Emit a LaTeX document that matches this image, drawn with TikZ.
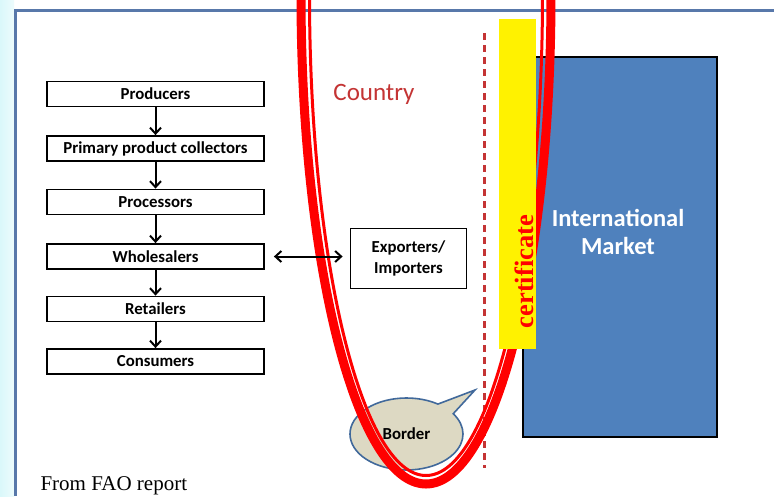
\documentclass[tikz,border=0pt]{standalone}
\usepackage{fontspec}
\setmainfont{Carlito}
\newfontfamily\serifface{Liberation Serif}
\usetikzlibrary{arrows.meta,shapes.callouts}

\definecolor{framebl}{RGB}{88,120,170}
\definecolor{accentred}{RGB}{196,52,52}
\definecolor{mktblue}{RGB}{79,129,189}
\definecolor{paper}{RGB}{221,217,195}
\definecolor{calloutedge}{RGB}{65,105,155}
\definecolor{bgcyan}{RGB}{218,248,250}

\begin{document}
\begin{tikzpicture}[x=1pt,y=-1pt,
  chainbox/.style={draw=black, line width=1.8pt, fill=white,
    minimum width=217pt, minimum height=25pt, inner sep=0pt,
    font=\fontsize{16.8}{20}\selectfont\bfseries},
  tip/.tip={Straight Barb[length=6pt,width=11pt,line width=2pt]},
  flow/.style={line width=2pt, -tip},
  biflow/.style={line width=2pt, tip-tip},
]
\useasboundingbox (0,0) rectangle (774,496);
\fill[white] (0,0) rectangle (774,496);
% slide background and frame
\shade[left color=bgcyan, right color=bgcyan!50] (0,0) rectangle (14,496);
\draw[framebl, line width=3pt] (15,496) -- (15,10) -- (774,10);

% supply chain inside the country
\node[chainbox] (prod)  at (155.5,94)    {Producers};
\node[chainbox] (prim)  at (155.5,148.5) {Primary product collectors};
\node[chainbox] (proc)  at (155.5,202)   {Processors};
\node[chainbox] (whole) at (155.5,256.5) {Wholesalers};
\node[chainbox] (ret)   at (155.5,309)   {Retailers};
\node[chainbox] (cons)  at (155.5,361.5) {Consumers};

\draw[flow] (prod) -- (prim);
\draw[flow] (prim) -- (proc);
\draw[flow] (proc) -- (whole);
\draw[flow] (whole) -- (ret);
\draw[flow] (ret) -- (cons);

\node[draw=black, line width=1.8pt, fill=white, minimum width=116pt,
  minimum height=60pt, inner sep=0pt, align=center,
  font=\fontsize{16.8}{21}\selectfont\bfseries]
  (exp) at (408.5,258.5) {Exporters/\\Importers};

\node[text=accentred, font=\fontsize{25}{30}\selectfont] (country) at (374,94) {Country};

% border line
\coordinate (btop) at (484,33);
\coordinate (bbot) at (484,468);
\draw[accentred, line width=3pt, dash pattern=on 7pt off 5pt] (btop) -- (bbot);

% international market
\node[draw=black, line width=1.5pt, fill=mktblue, minimum width=194pt,
  minimum height=380pt, inner sep=0pt, anchor=north west] (mkt) at (522,56) {};
\node[text=white, align=center, font=\fontsize{24.5}{28}\selectfont\bfseries]
  (mkttext) at (618,232) {International\\Market};

% speech bubble
\node[ellipse callout, draw=calloutedge, line width=1.6pt, fill=paper,
  minimum width=113pt, minimum height=72pt, inner sep=0pt,
  callout absolute pointer={(475,390)}, callout pointer arc=22,
  font=\fontsize{16.8}{20}\selectfont\bfseries] (bubble) at (406.5,434) {Border};

% red double ring around the border zone
\begin{scope}
\clip (0,0) rectangle (774,496);
\draw[red, line width=9pt] (426,-5) ellipse [x radius=125pt, y radius=489pt];
\draw[red, line width=3pt] (426,-5) ellipse [x radius=116.5pt, y radius=480.5pt];
\end{scope}

% trade link across the border
\draw[biflow, shorten <=9pt, shorten >=7pt] (whole.east) -- (whole.east -| exp.west);

% certificate strip
\fill[yellow] (499,19) rectangle (536,349);
\node[rotate=90, text=red, font=\serifface\fontsize{26.5}{30}\selectfont\bfseries]
  (cert) at (524,271.5) {certificate};

\node[anchor=base west, font=\serifface\fontsize{21}{24}\selectfont] (src) at (37,490) {From FAO report};
\end{tikzpicture}
\end{document}
